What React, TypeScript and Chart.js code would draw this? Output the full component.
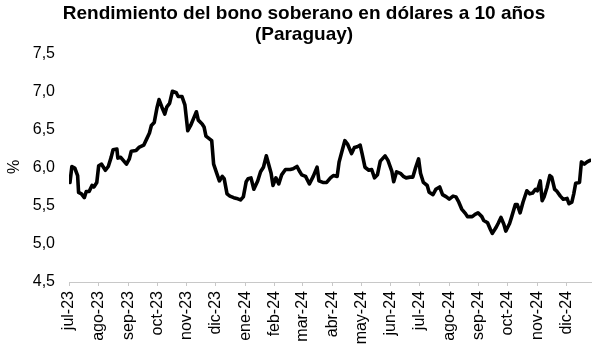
import React, { useEffect, useRef } from "react";
import { Chart, registerables } from "chart.js";

Chart.register(...registerables);

// Days elapsed since 1 Jul 2023 for each observation
const dayIndex = [
  1, 3, 6, 9, 10, 13, 16, 18, 21, 24, 26, 29, 31, 34, 38, 41, 44, 46, 50, 51,
  54, 58, 60, 63, 65, 70, 73, 78, 81, 84, 86, 89, 92, 94, 97, 100, 102, 105, 108, 112,
  114, 118, 121, 124, 127, 130, 133, 135, 139, 141, 143, 147, 149, 151, 154, 157, 160, 162, 165, 168,
  172, 175, 179, 182, 185, 187, 190, 193, 197, 200, 203, 206, 208, 211, 213, 216, 219, 222, 226, 231,
  234, 238, 241, 243, 247, 251, 255, 259, 261, 265, 269, 273, 276, 280, 282, 285, 288, 291, 295, 298,
  301, 304, 306, 309, 313, 316, 319, 322, 325, 330, 333, 337, 339, 342, 346, 349, 352, 356, 359, 362,
  365, 367, 370, 374, 376, 380, 383, 387, 390, 394, 397, 401, 404, 407, 410, 414, 416, 421, 424, 427,
  431, 433, 437, 440, 442, 446, 448, 451, 454, 456, 460, 462, 466, 468, 471, 474, 478, 481, 484, 487,
  489, 492, 494, 496, 499, 502, 504, 507, 509, 513, 516, 520, 522, 525, 527, 529, 533, 535, 538, 541,
  544,
];

// 10-year USD sovereign bond yield (%)
const yieldPct = [
  5.81, 6.02, 6.0, 5.9, 5.68, 5.66, 5.61, 5.69, 5.69, 5.77, 5.75, 5.81, 6.03, 6.05, 5.97, 6.02, 6.14, 6.24, 6.25, 6.13,
  6.14, 6.08, 6.05, 6.12, 6.22, 6.23, 6.27, 6.3, 6.38, 6.46, 6.56, 6.6, 6.8, 6.9, 6.8, 6.71, 6.8, 6.85, 7.01, 6.99,
  6.94, 6.94, 6.83, 6.49, 6.56, 6.65, 6.74, 6.63, 6.58, 6.54, 6.42, 6.38, 6.36, 6.05, 5.94, 5.83, 5.89, 5.86, 5.66, 5.63,
  5.61, 5.6, 5.58, 5.62, 5.82, 5.86, 5.87, 5.72, 5.83, 5.95, 6.01, 6.16, 6.07, 5.93, 5.77, 5.87, 5.79, 5.91, 5.98, 5.98,
  5.99, 6.02, 5.95, 5.91, 5.89, 5.79, 5.89, 6.01, 5.83, 5.81, 5.81, 5.87, 5.9, 5.89, 6.08, 6.22, 6.36, 6.31, 6.19, 6.27,
  6.28, 6.3, 6.19, 6.01, 5.97, 5.98, 5.87, 5.91, 6.09, 6.16, 6.1, 5.96, 5.82, 5.95, 5.93, 5.89, 5.87, 5.88, 5.88, 6.01,
  6.12, 5.93, 5.81, 5.77, 5.68, 5.65, 5.72, 5.75, 5.65, 5.62, 5.59, 5.63, 5.62, 5.55, 5.46, 5.4, 5.36, 5.36, 5.39, 5.41,
  5.36, 5.31, 5.28, 5.19, 5.14, 5.22, 5.27, 5.35, 5.26, 5.17, 5.27, 5.35, 5.52, 5.52, 5.41, 5.55, 5.7, 5.66, 5.67, 5.72,
  5.7, 5.83, 5.57, 5.62, 5.74, 5.9, 5.88, 5.72, 5.7, 5.63, 5.59, 5.6, 5.53, 5.55, 5.66, 5.8, 5.81, 6.08, 6.05, 6.08,
  6.1,
];

const monthLabels = [
  "jul-23", "ago-23", "sep-23", "oct-23", "nov-23", "dic-23",
  "ene-24", "feb-24", "mar-24", "abr-24", "may-24", "jun-24",
  "jul-24", "ago-24", "sep-24", "oct-24", "nov-24", "dic-24",
];

const titleLines = ["Rendimiento del bono soberano en dólares a 10 años", "(Paraguay)"];
const yAxisLabel = "%";

const DAY_MS = 86400000;
const origin = Date.UTC(2023, 6, 1);
const monthStartDays = monthLabels.map((_, i) => Math.round((Date.UTC(2023, 6 + i, 1) - origin) / DAY_MS));

const FONT = "'Liberation Sans', Arial, sans-serif";

export default function App() {
  const ref = useRef<HTMLCanvasElement | null>(null);

  useEffect(() => {
    if (!ref.current) return;
    const textPlugin = {
      id: "textPlugin",
      afterDraw(chart: any) {
        const ctx = chart.ctx;
        ctx.save();
        ctx.fillStyle = "#000";
        ctx.textAlign = "center";
        ctx.textBaseline = "middle";
        ctx.font = `bold 19px ${FONT}`;
        ctx.fillText(titleLines[0], 304, 14);
        ctx.fillText(titleLines[1], 304, 35);
        ctx.font = `16px ${FONT}`;
        ctx.translate(15, 167);
        ctx.rotate(-Math.PI / 2);
        ctx.fillText(yAxisLabel, 0, 0);
        ctx.restore();
      },
    };

    const chart = new Chart(ref.current, {
      type: "line",
      data: {
        datasets: [
          {
            data: dayIndex.map((d, i) => ({ x: d, y: yieldPct[i] })),
            borderColor: "#000",
            borderWidth: 3.6,
            pointRadius: 0,
            tension: 0,
            borderJoinStyle: "round",
            borderCapStyle: "round",
          },
        ],
      },
      options: {
        animation: false,
        responsive: false,
        maintainAspectRatio: false,
        layout: { padding: { top: 54, left: 0, right: 16, bottom: 0 } },
        plugins: { legend: { display: false }, tooltip: { enabled: false }, title: { display: false } },
        scales: {
          x: {
            type: "linear",
            min: 0,
            max: 545,
            afterBuildTicks: (scale: any) => {
              scale.ticks = monthStartDays.map((v) => ({ value: v }));
            },
            afterFit: (scale: any) => {
              scale.height = 76;
            },
            ticks: {
              autoSkip: false,
              minRotation: 90,
              maxRotation: 90,
              padding: 5,
              color: "#000",
              font: { family: FONT, size: 16 },
              callback: (_v: any, i: number) => monthLabels[i],
            },
            grid: { display: true, drawOnChartArea: false, drawTicks: true, tickLength: 4, color: "#c8c8c8" },
            border: { display: true, color: "#c8c8c8", width: 1 },
          },
          y: {
            min: 4.5,
            max: 7.5,
            afterFit: (scale: any) => {
              scale.width = 69;
            },
            ticks: {
              stepSize: 0.5,
              padding: 14,
              color: "#000",
              font: { family: FONT, size: 16 },
              callback: (v: any) => Number(v).toFixed(1).replace(".", ","),
            },
            grid: { display: false, drawTicks: false },
            border: { display: false },
          },
        },
      },
      plugins: [textPlugin],
    } as any);
    return () => chart.destroy();
  }, []);

  return (
    <div style={{ position: "fixed", left: 0, top: 0, width: 607, height: 358, background: "#fff" }}>
      <canvas ref={ref} width={607} height={358} style={{ width: 607, height: 358, display: "block" }} />
    </div>
  );
}
